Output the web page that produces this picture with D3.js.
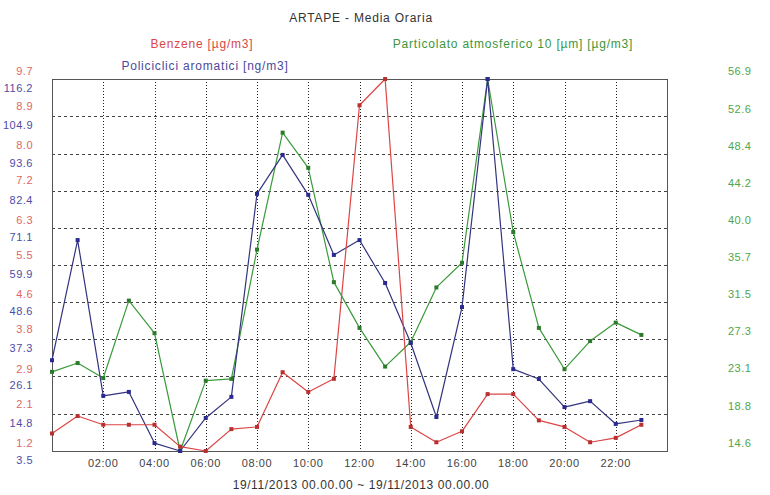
<!DOCTYPE html>
<html>
<head>
<meta charset="utf-8">
<script src="https://cdn.jsdelivr.net/npm/d3@7"></script>
<style>
  body { margin: 0; background: #fff; }
  text { font-family: 'Liberation Sans', Arial, sans-serif; }
</style>
</head>
<body>
<div id="chart"></div>
<script>
// ore del giorno (19/11/2013)
const hours = [0, 1, 2, 3, 4, 5, 6, 7, 8, 9, 10, 11, 12, 13, 14, 15, 16, 17, 18, 19, 20, 21, 22, 23];
const hourTicks = [2, 4, 6, 8, 10, 12, 14, 16, 18, 20, 22];
const hourLabels = ['02:00', '04:00', '06:00', '08:00', '10:00', '12:00', '14:00', '16:00', '18:00', '20:00', '22:00'];

// Benzene [µg/m3]
const benzene = [1.6, 2.0, 1.8, 1.8, 1.8, 1.3, 1.2, 1.7, 1.75, 3.0, 2.55, 2.85,
                 9.1, 9.7, 1.75, 1.4, 1.65, 2.5, 2.5, 1.9, 1.75, 1.4, 1.5, 1.8];
// Policiclici aromatici [ng/m3]
const ipa = [31.0, 67.4, 20.2, 21.4, 5.9, 3.5, 13.5, 19.9, 81.4, 93.2, 81.1, 62.9,
             67.4, 54.4, 36.2, 13.8, 47.1, 116.2, 28.3, 25.3, 16.8, 18.6, 11.7, 12.9];
// Particolato atmosferico 10 [µm] [µg/m3]
const pm10 = [23.6, 24.6, 22.9, 31.7, 28.0, 14.6, 22.6, 22.8, 37.5, 50.8, 46.8, 33.8,
              28.6, 24.2, 27.0, 33.2, 36.0, 56.9, 39.5, 28.6, 23.9, 27.1, 29.2, 27.8];

const benzeneTicks = [9.7, 8.9, 8.0, 7.2, 6.3, 5.5, 4.6, 3.8, 2.9, 2.1, 1.2];
const ipaTicks = [116.2, 104.9, 93.6, 82.4, 71.1, 59.9, 48.6, 37.3, 26.1, 14.8, 3.5];
const pm10Ticks = [56.9, 52.6, 48.4, 44.2, 40.0, 35.7, 31.5, 27.3, 23.1, 18.8, 14.6];

const W = 770, H = 495;
const plot = {left: 52, right: 667, top: 79, bottom: 451};

const svg = d3.select('#chart').append('svg')
    .attr('width', W).attr('height', H);

const x = d3.scaleLinear().domain([0, 24]).range([plot.left, plot.right]);
const yR = d3.scaleLinear().domain([1.2, 9.7]).range([plot.bottom, plot.top]);
const yB = d3.scaleLinear().domain([3.5, 116.2]).range([plot.bottom, plot.top]);
const yG = d3.scaleLinear().domain([14.6, 56.9]).range([plot.bottom, plot.top]);

// titolo e legenda
svg.append('text').attr('x', 361).attr('y', 22).attr('text-anchor', 'middle')
    .attr('font-size', 12).attr('letter-spacing', 0.8).attr('fill', '#333')
    .text('ARTAPE - Media Oraria');
svg.append('text').attr('x', 202).attr('y', 48).attr('text-anchor', 'middle')
    .attr('font-size', 12).attr('letter-spacing', 0.8).attr('fill', '#d84848')
    .text('Benzene [µg/m3]');
svg.append('text').attr('x', 513).attr('y', 48).attr('text-anchor', 'middle')
    .attr('font-size', 12).attr('letter-spacing', 0.8).attr('fill', '#3c963c')
    .text('Particolato atmosferico 10 [µm] [µg/m3]');
svg.append('text').attr('x', 205).attr('y', 70).attr('text-anchor', 'middle')
    .attr('font-size', 12).attr('letter-spacing', 0.8).attr('fill', '#4a4a9c')
    .text('Policiclici aromatici [ng/m3]');

// griglia
const grid = svg.append('g');
grid.selectAll('line.h')
    .data(ipaTicks.slice(1, -1))
    .join('line')
    .attr('x1', plot.left).attr('x2', plot.right)
    .attr('y1', d => Math.round(yB(d)) + 0.5).attr('y2', d => Math.round(yB(d)) + 0.5)
    .attr('stroke', '#444').attr('stroke-dasharray', '3,3');
grid.selectAll('line.v')
    .data(hourTicks)
    .join('line')
    .attr('x1', d => Math.round(x(d)) + 0.5).attr('x2', d => Math.round(x(d)) + 0.5)
    .attr('y1', plot.top).attr('y2', plot.bottom)
    .attr('stroke', '#222').attr('stroke-dasharray', '1,2');

svg.append('rect')
    .attr('x', plot.left + 0.5).attr('y', plot.top + 0.5)
    .attr('width', plot.right - plot.left).attr('height', plot.bottom - plot.top)
    .attr('fill', 'none').attr('stroke', '#555');

// etichette asse sinistro (rosso sopra la linea, blu sotto)
svg.append('g').selectAll('text')
    .data(benzeneTicks)
    .join('text')
    .attr('x', 33).attr('y', d => yR(d) - 4)
    .attr('text-anchor', 'end').attr('font-size', 11).attr('letter-spacing', 0.5)
    .attr('fill', '#e06666')
    .text(d => d.toFixed(1));
svg.append('g').selectAll('text')
    .data(ipaTicks)
    .join('text')
    .attr('x', 33).attr('y', d => yB(d) + 13)
    .attr('text-anchor', 'end').attr('font-size', 11).attr('letter-spacing', 0.5)
    .attr('fill', '#4d4da6')
    .text(d => d.toFixed(1));
// asse destro (verde)
svg.append('g').selectAll('text')
    .data(pm10Ticks)
    .join('text')
    .attr('x', 728).attr('y', d => yG(d) - 4)
    .attr('font-size', 11).attr('letter-spacing', 0.5)
    .attr('fill', '#4da64d')
    .text(d => d.toFixed(1));

// asse x
svg.append('g').selectAll('text')
    .data(hourTicks)
    .join('text')
    .attr('x', d => x(d)).attr('y', 467)
    .attr('text-anchor', 'middle').attr('font-size', 11).attr('letter-spacing', 0.6)
    .attr('fill', '#444')
    .text((d, i) => hourLabels[i]);
svg.append('text').attr('x', 361).attr('y', 489).attr('text-anchor', 'middle')
    .attr('font-size', 12).attr('letter-spacing', 0.6).attr('fill', '#333')
    .text('19/11/2013 00.00.00 ~ 19/11/2013 00.00.00');

// serie
const series = [
    {values: pm10, y: yG, line: '#3a9a3a', dot: '#2d7a2d'},
    {values: ipa, y: yB, line: '#33337f', dot: '#2a2a90'},
    {values: benzene, y: yR, line: '#dd4444', dot: '#b83030'}
];

series.forEach(s => {
    const line = d3.line()
        .x((d, i) => x(hours[i]))
        .y(d => s.y(d));
    svg.append('path')
        .datum(s.values)
        .attr('fill', 'none')
        .attr('stroke', s.line)
        .attr('stroke-width', 1.2)
        .attr('stroke-linejoin', 'round')
        .attr('d', line);
    svg.append('g').selectAll('rect')
        .data(s.values)
        .join('rect')
        .attr('x', (d, i) => x(hours[i]) - 2)
        .attr('y', d => s.y(d) - 2)
        .attr('width', 4).attr('height', 4)
        .attr('fill', s.dot);
});
</script>
</body>
</html>
